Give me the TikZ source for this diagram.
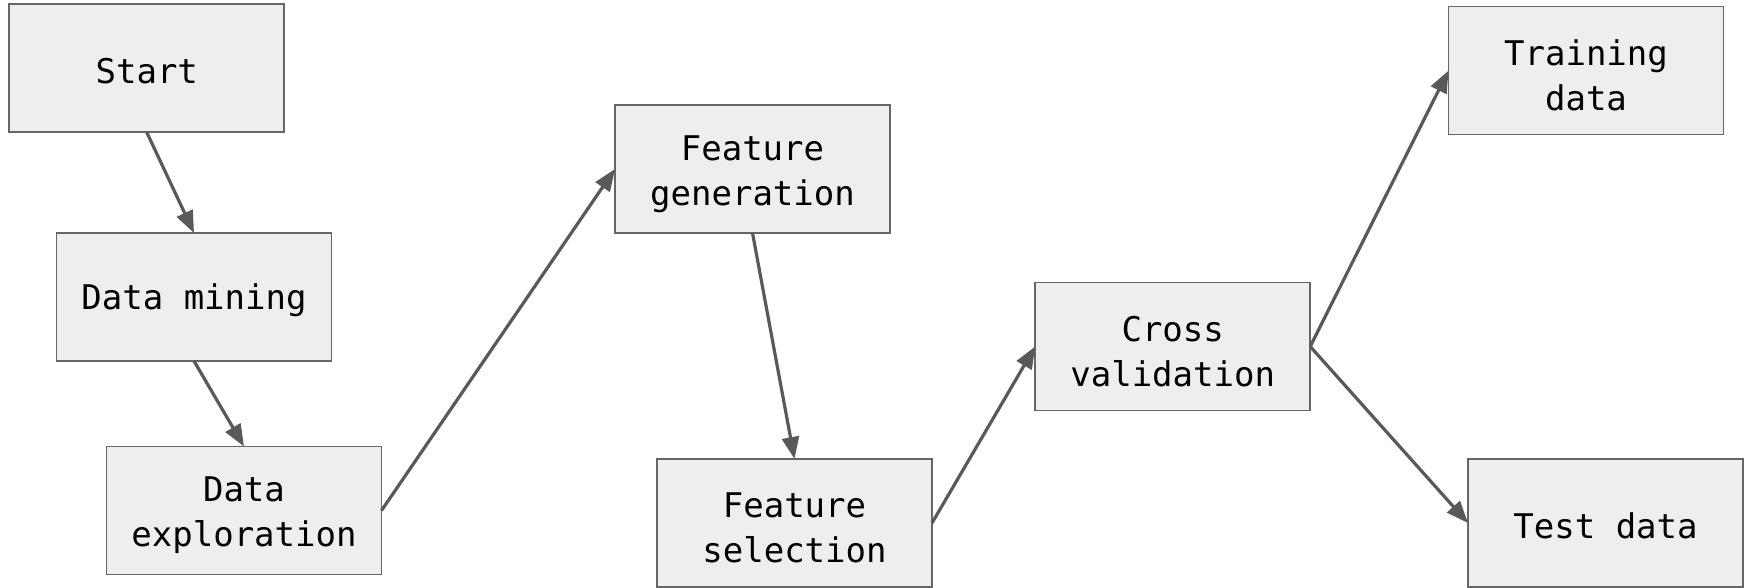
\documentclass[tikz,border=0pt]{standalone}
\usepackage{fontspec}
\setmonofont{DejaVu Sans Mono}
\usetikzlibrary{arrows.meta}
\definecolor{boxfill}{HTML}{EEEEEE}
\definecolor{boxline}{HTML}{666666}
\definecolor{arrowgray}{HTML}{595959}
\begin{document}
\begin{tikzpicture}[x=1pt,y=-1pt,
  stepbox/.style={draw=boxline, line width=1.8pt, fill=boxfill,
    minimum width=275pt, minimum height=128pt, inner sep=0pt, outer sep=0pt},
  steptext/.style={align=center, inner sep=0pt, text=black,
    font=\ttfamily\fontsize{34}{45}\selectfont},
  every label/.style={steptext},
  flow/.style={draw=arrowgray, line width=3.2pt,
    -{Triangle[length=22pt,width=17pt]}}]
\useasboundingbox (0,0) rectangle (1744,588);

% process boxes, text sits slightly below the geometric centre
\node[stepbox, label={[yshift=-3pt]center:Start}] (start) at (146.8,68.4) {};
\node[stepbox, label={[yshift=-3pt]center:Data mining}] (mining) at (194,297) {};
\node[stepbox, label={[yshift=-5pt]center:{Data\\exploration}}] (explore) at (244,510.5) {};
\node[stepbox, label={[yshift=-5pt]center:{Feature\\generation}}] (fgen) at (752.5,169) {};
\node[stepbox, label={[yshift=-5pt]center:{Feature\\selection}}] (fsel) at (794.5,523) {};
\node[stepbox, label={[yshift=-5pt]center:{Cross\\validation}}] (cv) at (1172.7,346.5) {};
\node[stepbox, label={[yshift=-5pt]center:{Training\\data}}] (train) at (1586,70.6) {};
\node[stepbox, label={[yshift=-3pt]center:Test data}] (test) at (1605.5,523) {};

% pipeline connectors
\draw[flow] (start.south) -- (mining.north);
\draw[flow] (mining.south) -- (explore.north);
\draw[flow] (explore.east) -- (fgen.west);
\draw[flow] (fgen.south) -- (fsel.north);
\draw[flow] (fsel.east) -- (cv.west);
\draw[flow] (cv.east) -- (train.west);
\draw[flow] (cv.east) -- (test.west);
\end{tikzpicture}
\end{document}
